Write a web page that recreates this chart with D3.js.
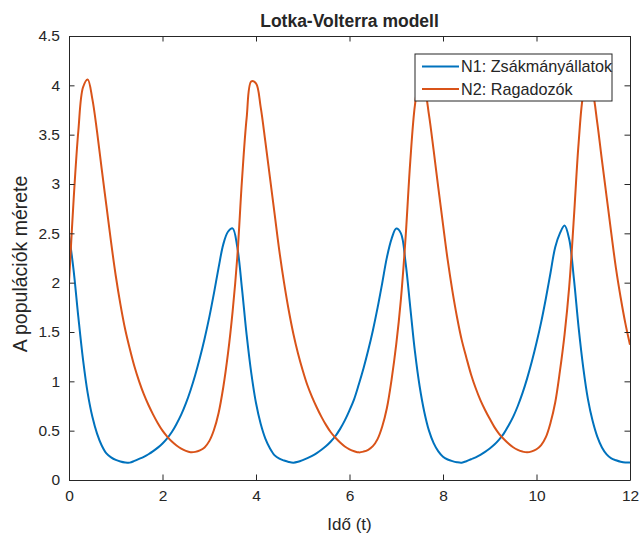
<!DOCTYPE html>
<html>
<head>
<meta charset="utf-8">
<script src="https://cdn.jsdelivr.net/npm/d3@7"></script>
<style>
  body { margin: 0; background: #fff; }
  text { font-family: Arial, "Liberation Sans", Helvetica, sans-serif; fill: #262626; }
</style>
</head>
<body>
<svg id="chart" width="644" height="537"></svg>
<script>
// time points (t)
var times = [
  0.0, 0.1, 0.2, 0.3, 0.4, 0.5, 0.6, 0.7, 0.8, 0.9,
  1.0, 1.1, 1.2, 1.3, 1.4, 1.5, 1.6, 1.7, 1.8, 1.9,
  2.0, 2.1, 2.2, 2.3, 2.4, 2.5, 2.6, 2.7, 2.8, 2.9,
  3.0, 3.1, 3.2, 3.3, 3.4, 3.5, 3.6, 3.7, 3.8, 3.9,
  4.0, 4.1, 4.2, 4.3, 4.4, 4.5, 4.6, 4.7, 4.8, 4.9,
  5.0, 5.1, 5.2, 5.3, 5.4, 5.5, 5.6, 5.7, 5.8, 5.9,
  6.0, 6.1, 6.2, 6.3, 6.4, 6.5, 6.6, 6.7, 6.8, 6.9,
  7.0, 7.1, 7.2, 7.3, 7.4, 7.5, 7.6, 7.7, 7.8, 7.9,
  8.0, 8.1, 8.2, 8.3, 8.4, 8.5, 8.6, 8.7, 8.8, 8.9,
  9.0, 9.1, 9.2, 9.3, 9.4, 9.5, 9.6, 9.7, 9.8, 9.9,
  10.0, 10.1, 10.2, 10.3, 10.4, 10.5, 10.6, 10.7, 10.8, 10.9,
  11.0, 11.1, 11.2, 11.3, 11.4, 11.5, 11.6, 11.7, 11.8, 11.9,
  12.0
];

// N1: prey
var n1 = [
  2.49, 2.12, 1.65, 1.22, 0.88, 0.64, 0.47, 0.35, 0.27, 0.23,
  0.204, 0.188, 0.178, 0.176, 0.194, 0.214, 0.235, 0.261, 0.292, 0.328,
  0.37, 0.422, 0.486, 0.568, 0.662, 0.776, 0.91, 1.064, 1.238, 1.432,
  1.648, 1.892, 2.152, 2.388, 2.516, 2.55, 2.36, 1.94, 1.47, 1.08,
  0.78, 0.57, 0.42, 0.32, 0.25, 0.216, 0.197, 0.183, 0.176, 0.185,
  0.202, 0.222, 0.245, 0.273, 0.306, 0.344, 0.39, 0.446, 0.518, 0.604,
  0.706, 0.82, 0.97, 1.132, 1.314, 1.516, 1.744, 1.996, 2.256, 2.444,
  2.548, 2.50, 2.20, 1.75, 1.30, 0.95, 0.69, 0.50, 0.374, 0.29,
  0.236, 0.208, 0.191, 0.18, 0.176, 0.19, 0.21, 0.23, 0.255, 0.285,
  0.32, 0.36, 0.41, 0.47, 0.55, 0.64, 0.75, 0.88, 1.03, 1.20,
  1.39, 1.60, 1.84, 2.10, 2.36, 2.50, 2.58, 2.44, 2.04, 1.55,
  1.14, 0.82, 0.60, 0.44, 0.33, 0.26, 0.22, 0.20, 0.185, 0.177,
  0.177
];

// N2: predators
var n2 = [
  2.00, 2.85, 3.54, 3.98, 4.06, 3.86, 3.53, 3.15, 2.78, 2.41,
  2.07, 1.78, 1.53, 1.33, 1.15, 1.00, 0.87, 0.76, 0.663, 0.576,
  0.50, 0.44, 0.39, 0.35, 0.318, 0.295, 0.282, 0.285, 0.30, 0.33,
  0.394, 0.507, 0.68, 0.94, 1.28, 1.71, 2.26, 3.04, 3.67, 4.04,
  4.02, 3.78, 3.43, 3.06, 2.69, 2.32, 2.00, 1.72, 1.48, 1.28,
  1.11, 0.96, 0.84, 0.735, 0.64, 0.556, 0.484, 0.428, 0.38, 0.34,
  0.311, 0.292, 0.28, 0.288, 0.306, 0.343, 0.414, 0.542, 0.73, 1.018,
  1.376, 1.834, 2.46, 3.23, 3.80, 4.06, 3.98, 3.70, 3.34, 2.96,
  2.59, 2.23, 1.92, 1.65, 1.42, 1.24, 1.07, 0.93, 0.81, 0.71,
  0.62, 0.536, 0.468, 0.415, 0.369, 0.332, 0.305, 0.288, 0.28, 0.29,
  0.312, 0.354, 0.434, 0.58, 0.785, 1.10, 1.474, 1.96, 2.66, 3.41,
  3.91, 4.07, 3.94, 3.62, 3.24, 2.87, 2.50, 2.145, 1.85, 1.59,
  1.37
];

var xTicks = [0, 2, 4, 6, 8, 10, 12];
var yTicks = [0, 0.5, 1, 1.5, 2, 2.5, 3, 3.5, 4, 4.5];
var seriesNames = ["N1: Zsákmányállatok", "N2: Ragadozók"];
var seriesColors = ["#0072BD", "#D95319"];

var margin = {top: 36, right: 14, bottom: 57, left: 69};
var width = 644 - margin.left - margin.right;
var height = 537 - margin.top - margin.bottom;

var svg = d3.select("#chart");
var g = svg.append("g")
  .attr("id", "main_svg_g")
  .attr("transform", "translate(" + margin.left + "," + margin.top + ")");

var x = d3.scaleLinear().domain([0, 12]).range([0, width]);
var y = d3.scaleLinear().domain([0, 4.5]).range([height, 0]);

g.append("clipPath").attr("id", "clip")
  .append("rect").attr("width", width).attr("height", height);

// lines
var series = [n1, n2];
var line = d3.line()
  .x(function(d, i) { return x(times[i]); })
  .y(function(d) { return y(d); })
  .curve(d3.curveCatmullRom.alpha(0.5));

g.append("g").attr("clip-path", "url(#clip)")
  .selectAll("path")
  .data(series)
  .enter()
  .append("path")
  .attr("fill", "none")
  .attr("stroke", function(d, i) { return seriesColors[i]; })
  .attr("stroke-width", 2)
  .attr("stroke-linejoin", "round")
  .attr("d", line);

// axes, ticks point inward like matlab
var tickLen = 5.5;
var xAxis = d3.axisBottom(x).tickValues(xTicks).tickSizeInner(-tickLen).tickSizeOuter(0).tickPadding(10);
var yAxis = d3.axisLeft(y).tickValues(yTicks).tickSizeInner(-tickLen).tickSizeOuter(0).tickPadding(9)
  .tickFormat(function(d) { return d; });
var xTop = d3.axisTop(x).tickValues(xTicks).tickSizeInner(-tickLen).tickSizeOuter(0).tickFormat("");
var yRight = d3.axisRight(y).tickValues(yTicks).tickSizeInner(-tickLen).tickSizeOuter(0).tickFormat("");

g.append("g").attr("class", "axis").attr("transform", "translate(0," + height + ")").call(xAxis);
g.append("g").attr("class", "axis").call(yAxis);
g.append("g").attr("class", "axis").call(xTop);
g.append("g").attr("class", "axis").attr("transform", "translate(" + width + ",0)").call(yRight);

g.selectAll(".axis path, .axis line").attr("stroke", "#262626").attr("stroke-width", 1);
g.selectAll(".axis text")
  .style("font-family", "Arial, 'Liberation Sans', sans-serif")
  .style("font-size", "15.5px")
  .attr("fill", "#4d4d4d");

// title and labels
svg.append("text")
  .attr("x", margin.left + width / 2)
  .attr("y", 27)
  .attr("text-anchor", "middle")
  .style("font-size", "17.5px")
  .style("font-weight", "bold")
  .attr("fill", "#000")
  .text("Lotka-Volterra modell");

svg.append("text")
  .attr("x", margin.left + width / 2)
  .attr("y", 530)
  .attr("text-anchor", "middle")
  .style("font-size", "17px")
  .attr("fill", "#262626")
  .text("Idő (t)");

svg.append("text")
  .attr("transform", "translate(27," + (margin.top + height / 2 + 6) + ") rotate(-90)")
  .attr("text-anchor", "middle")
  .style("font-size", "19.5px")
  .attr("fill", "#262626")
  .text("A populációk mérete");

// legend
var legend = g.append("g").attr("transform", "translate(" + (415 - margin.left) + "," + (54 - margin.top) + ")");
legend.append("rect")
  .attr("width", 197)
  .attr("height", 47)
  .attr("fill", "#fff")
  .attr("stroke", "#262626")
  .attr("stroke-width", 1);

var entries = legend.selectAll(".entry")
  .data(seriesNames)
  .enter()
  .append("g")
  .attr("class", "entry")
  .attr("transform", function(d, i) { return "translate(0," + (12.5 + i * 22.5) + ")"; });

entries.append("line")
  .attr("x1", 7).attr("x2", 44)
  .attr("stroke", function(d, i) { return seriesColors[i]; })
  .attr("stroke-width", 2);

entries.append("text")
  .attr("x", 46)
  .attr("dy", "0.36em")
  .style("font-size", "16.2px")
  .attr("fill", "#000")
  .text(function(d) { return d; });
</script>
</body>
</html>
